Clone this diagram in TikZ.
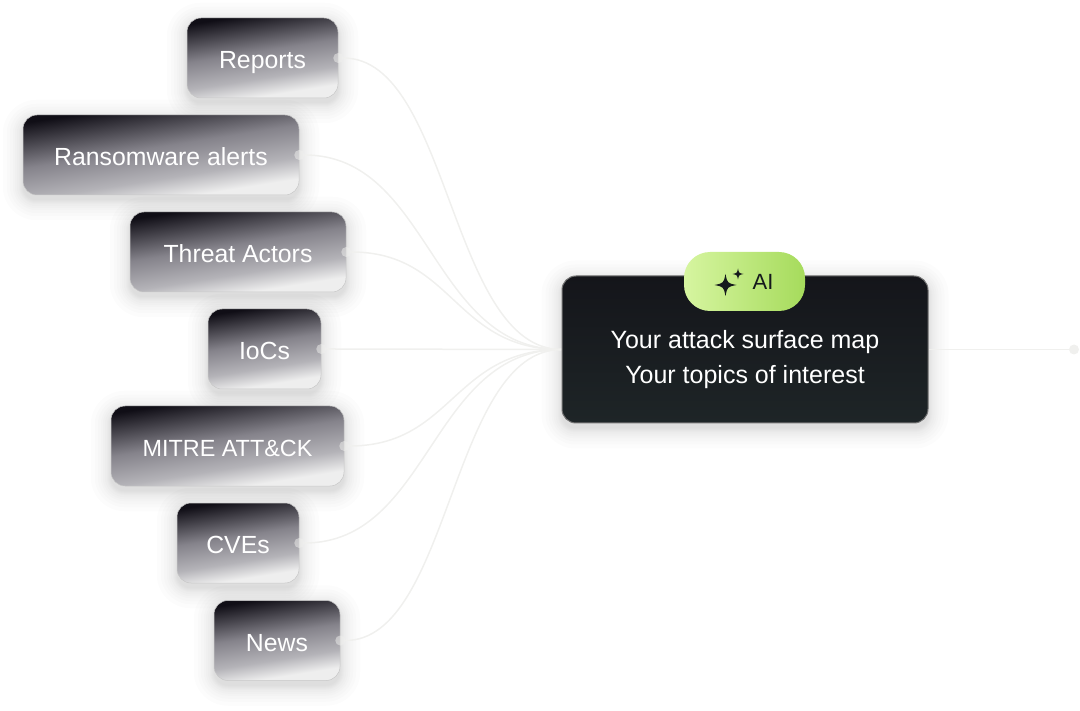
\documentclass[tikz,border=0pt]{standalone}
\usepackage{fontspec}
\setmainfont{Liberation Sans}
\usetikzlibrary{positioning,calc,backgrounds}
\definecolor{boxdark}{HTML}{100E16}
\definecolor{boxmid}{HTML}{85838B}
\definecolor{boxpale}{HTML}{B4B3B8}
\definecolor{boxlight}{HTML}{EEEEEE}
\definecolor{maintop}{HTML}{14151A}
\definecolor{mainbottom}{HTML}{1E2527}
\definecolor{wire}{HTML}{F0F0EE}
\definecolor{pillleft}{HTML}{D6F5A0}
\definecolor{pillright}{HTML}{A6DB5C}
\definecolor{pilltext}{HTML}{15191C}
\pgfdeclareverticalshading{boxfade}{100bp}{
    color(0bp)=(boxlight);
    color(29bp)=(boxlight);
    color(39bp)=(boxpale);
    color(54bp)=(boxmid);
    color(75bp)=(boxdark);
    color(100bp)=(boxdark)}
\tikzset{
    topicbox/.style={rounded corners=14pt, draw=white!78!black, line width=0.5pt, shading=boxfade, shading angle=9,
        minimum height=80pt, inner sep=0pt, text=white, font=\fontsize{24.8}{28}\selectfont, text height=23pt, text depth=2pt},
    mainbox/.style={rounded corners=14pt, draw=black!55, line width=1pt, top color=maintop, bottom color=mainbottom,
        minimum width=366pt, minimum height=147pt, inner sep=0pt, text=white, align=center,
        font=\fontsize{25}{35}\selectfont},
    aipill/.style={rounded corners=26pt, left color=pillleft, right color=pillright, minimum width=121pt, minimum height=59pt, inner sep=0pt},
    portdot/.style={circle, fill=wire, minimum size=10pt, inner sep=0pt},
    wireline/.style={draw=wire, line width=1.5pt},
    sparkle/.pic={\fill[pilltext] (0,-1) .. controls (0.17,-0.17) .. (1,0) .. controls (0.17,0.17) .. (0,1) .. controls (-0.17,0.17) .. (-1,0) .. controls (-0.17,-0.17) .. cycle;}
}
\newcommand{\softshadow}[1]{
    \foreach \g in {0,1,2,3,4,6,8,10,13,16,20}
        \fill[black, opacity=0.012, rounded corners={14pt+\g pt}] ($(#1.south west)+(-\g,\g+5)$) rectangle ($(#1.north east)+(\g,-\g+5)$);
}
\begin{document}
\begin{tikzpicture}[x=1pt,y=-1pt]
    \useasboundingbox (0,0) rectangle (1080,711);

    % centre box
    \node[mainbox] (main) at (745,349.5) {\rule{0pt}{39pt}Your attack surface map\\Your topics of interest};
    \node[aipill] (pill) at (744.5,281.5) {};
    \node[font=\fontsize{22}{26}\selectfont, text=pilltext, inner sep=0pt] (ailabel) at (763,282) {AI};
    \pic[scale=11] at (725.5,285) {sparkle};
    \pic[scale=5.5] at (738,274) {sparkle};
    \node[portdot] (outdot) at (1074,349.5) {};

    % topic boxes: name / label / x centre / y centre / width
    \foreach \n/\lbl/\cx/\cy/\bw in {reports/Reports/262.5/58/151, ransom/Ransomware alerts/161/155/276, threat/Threat Actors/238/252/216, iocs/IoCs/264.5/349/113, mitre/{\fontsize{23.4}{28}\selectfont MITRE ATT\&CK}/227.5/446/233, cves/CVEs/238/543/122, news/News/277/640.5/126}
    {
        \node[topicbox, minimum width=\bw pt] (\n) at (\cx,\cy) {\lbl};
        \node[portdot, opacity=0.5] (\n-dot) at (\n.east) {};
    }

    \begin{scope}[on background layer]
        \softshadow{main}
        \foreach \n in {reports,ransom,threat,iocs,mitre,cves,news}
        {
            \softshadow{\n}
        }
        % wires into the centre box
        \foreach \n in {reports,ransom,threat,iocs,mitre,cves,news}
        {
            \coordinate (mid) at ($(\n.east)!.5!(main.west)$);
            \draw[wireline] (\n-dot) .. controls (mid |- \n.east) and (mid |- main.west) .. (main.west);
        }
        \draw[wireline] (main.east) -- (outdot);
    \end{scope}
\end{tikzpicture}
\end{document}
